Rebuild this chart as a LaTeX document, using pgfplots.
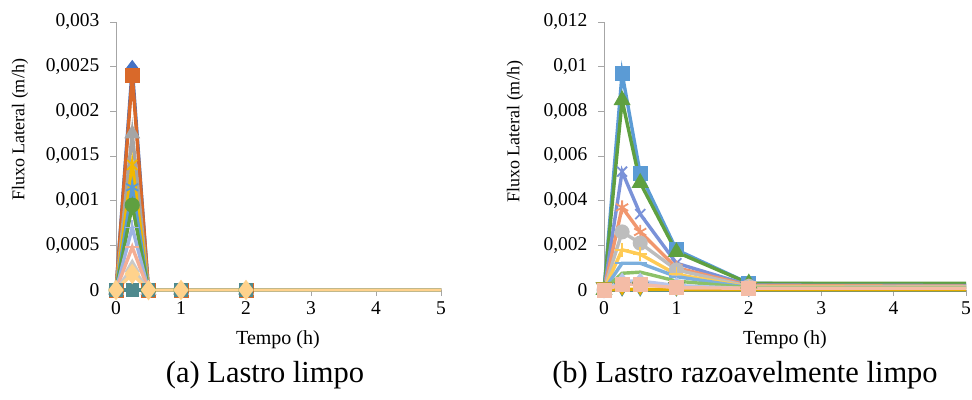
\documentclass[border=0pt]{standalone}
\usepackage{fontspec}
\setmainfont{Liberation Serif}
\usepackage{pgfplots}
\pgfplotsset{compat=1.18}
\definecolor{c1}{HTML}{4472C4}
\definecolor{c2}{HTML}{D9692A}
\definecolor{c3}{HTML}{A5A5A5}
\definecolor{c4}{HTML}{F2B800}
\definecolor{c5}{HTML}{5B9BD5}
\definecolor{c6}{HTML}{5FA040}
\definecolor{c7}{HTML}{9DB3E3}
\definecolor{c8}{HTML}{F4AE94}
\definecolor{c9}{HTML}{C9C9C9}
\definecolor{c10}{HTML}{FFD28C}
\definecolor{cteal}{HTML}{4F8A8E}
\definecolor{r3}{HTML}{7A92D8}
\definecolor{r4}{HTML}{F1976E}
\definecolor{r5}{HTML}{BDBDBD}
\definecolor{r6}{HTML}{FFCB55}
\definecolor{r7}{HTML}{7CAFDD}
\definecolor{r8}{HTML}{8CC168}
\definecolor{r9}{HTML}{B8C6EC}
\definecolor{r11}{HTML}{E8AE00}
\definecolor{r12}{HTML}{F4BCA6}
\definecolor{axgray}{HTML}{A6A6A6}
\pgfplotsset{
  base/.style={
    scale only axis, anchor=south west,
    xmin=0, xmax=5, ymin=0, xtick={0,1,2,3,4,5},
    axis x line*=bottom, axis y line*=left,
    axis line style={draw=axgray, line width=1pt, -},
    tick style={draw=axgray, line width=0.9pt},
    tick align=outside, major tick length=6pt,
    clip=false, scaled y ticks=false,
    tick label style={font=\fontsize{19.5}{19.5}\selectfont},
    yticklabel style={xshift=-7pt, /pgf/number format/.cd, fixed, use comma, precision=4, assume math mode=true},
    xticklabel style={yshift=-2pt, /pgf/number format/assume math mode=true},
    every axis plot/.append style={line width=3.4pt, mark size=5.8pt, mark indices={1,2,3,4,5}},
  },
}
\begin{document}
\begin{tikzpicture}[x=1pt,y=1pt]
\useasboundingbox (0,0) rectangle (972,-399);
\begin{axis}[base, at={(116pt,-290pt)}, width=325pt, height=268pt, ymax=0.003,
  ytick={0,0.0005,0.001,0.0015,0.002,0.0025,0.003}]
\addplot[c1, mark=diamond*, mark options={solid,fill=c1}] coordinates {(0,0) (0.25,0.00248) (0.5,0) (1,0) (2,0) (5,0)};
\addplot[c2, mark=square*, mark options={solid,fill=c2}] coordinates {(0,0) (0.25,0.0024) (0.5,0) (1,0) (2,0) (5,0)};
\addplot[c3, mark=triangle*, mark options={solid,fill=c3}] coordinates {(0,0) (0.25,0.00175) (0.5,0) (1,0) (2,0) (5,0)};
\addplot[c4, mark=x, mark size=7pt, mark options={solid,line width=1.8pt}] coordinates {(0,0) (0.25,0.0014) (0.5,0) (1,0) (2,0) (5,0)};
\addplot[c5, mark=asterisk, mark size=7pt, mark options={solid,line width=1.8pt}] coordinates {(0,0) (0.25,0.00115) (0.5,0) (1,0) (2,0) (5,0)};
\addplot[c6, mark=*, mark options={solid,fill=c6}] coordinates {(0,0) (0.25,0.00095) (0.5,0) (1,0) (2,0) (5,0)};
\addplot[c7, mark=+, mark size=7pt, mark options={solid,line width=1.8pt}] coordinates {(0,0) (0.25,0.0007) (0.5,0) (1,0) (2,0) (5,0)};
\addplot[c8, mark=-, mark size=7pt, mark options={solid,line width=1.8pt}] coordinates {(0,0) (0.25,0.00048) (0.5,0) (1,0) (2,0) (5,0)};
\addplot[c9, mark=triangle*, mark options={solid,fill=c9}] coordinates {(0,0) (0.25,0.00025) (0.5,0) (1,0) (2,0) (5,0)};
\addplot[cteal, mark=square*, mark size=5pt, mark options={solid,fill=cteal}] coordinates {(0,0) (0.25,0) (0.5,0) (1,0) (2,0) (5,0)};
\addplot[c10, mark=diamond*, mark size=7.5pt, mark options={solid,fill=c10}] coordinates {(0,0) (0.25,0.00018) (0.5,0) (1,0) (2,0) (5,0)};
\end{axis}
\begin{axis}[base, at={(604pt,-290pt)}, width=362pt, height=268pt, ymax=0.012,
  ytick={0,0.002,0.004,0.006,0.008,0.01,0.012}]
\addplot[c5, mark=square*, mark options={solid,fill=c5}] coordinates {(0,0) (0.25,0.0097) (0.5,0.0052) (1,0.0018) (2,0.0003) (5,0.00024)};
\addplot[c6, mark=triangle*, mark size=6.5pt, mark options={solid,fill=c6}] coordinates {(0,0) (0.25,0.0085) (0.5,0.0048) (1,0.0017) (2,0.0003) (5,0.0003)};
\addplot[r3, mark=x, mark size=7pt, mark options={solid,line width=1.8pt}] coordinates {(0,0) (0.25,0.0053) (0.5,0.0034) (1,0.0012) (2,0.00022) (5,0.0002)};
\addplot[r4, mark=asterisk, mark size=7pt, mark options={solid,line width=1.8pt}] coordinates {(0,0) (0.25,0.0037) (0.5,0.0026) (1,0.001) (2,0.0002) (5,0.00017)};
\addplot[r5, mark=*, mark options={solid,fill=r5}] coordinates {(0,0) (0.25,0.0026) (0.5,0.0021) (1,0.0009) (2,0.00016) (5,0.00015)};
\addplot[r6, mark=+, mark size=7pt, mark options={solid,line width=1.8pt}] coordinates {(0,0) (0.25,0.0018) (0.5,0.0016) (1,0.0007) (2,0.00013) (5,0.00012)};
\addplot[r7, mark=-, mark size=7pt, mark options={solid,line width=1.8pt}] coordinates {(0,0) (0.25,0.0012) (0.5,0.0012) (1,0.0006) (2,0.00011) (5,0.0001)};
\addplot[r8, mark=none] coordinates {(0,0) (0.25,0.00075) (0.5,0.0008) (1,0.0004) (2,0.0001) (5,0.0001)};
\addplot[r9, mark=diamond*, mark options={solid,fill=r9}] coordinates {(0,0) (0.25,0.0004) (0.5,0.0004) (1,0.0002) (2,0.00006) (5,0.00006)};
\addplot[cteal, mark=triangle*, mark size=6.5pt, mark options={solid,fill=cteal,rotate=180,yshift=-3pt}] coordinates {(0,0) (0.25,0) (0.5,0) (1,0) (2,0) (5,0)};
\addplot[r11, mark=triangle*, mark size=6pt, mark options={solid,fill=r11,rotate=180,yshift=-3pt}] coordinates {(0,0) (0.25,0.00003) (0.5,0.00003) (1,0.00002) (2,0.00001) (5,0.00001)};
\addplot[r12, mark=square*, mark options={solid,fill=r12}] coordinates {(0,0) (0.25,0.00025) (0.5,0.00025) (1,0.0001) (2,0.00008) (5,0.00008)};
\end{axis}
\node[rotate=90, font=\fontsize{18}{18}\selectfont] at (20,-130) {Fluxo Lateral (m/h)};
\node[rotate=90, font=\fontsize{18}{18}\selectfont] at (515,-132) {Fluxo Lateral (m/h)};
\node[font=\fontsize{20}{20}\selectfont] at (278,-340) {Tempo (h)};
\node[font=\fontsize{20}{20}\selectfont] at (785,-340) {Tempo (h)};
\node[font=\fontsize{30.5}{30.5}\selectfont] at (265,-375) {(a) Lastro limpo};
\node[font=\fontsize{30.5}{30.5}\selectfont] at (745,-375) {(b) Lastro razoavelmente limpo};
\end{tikzpicture}
\end{document}
